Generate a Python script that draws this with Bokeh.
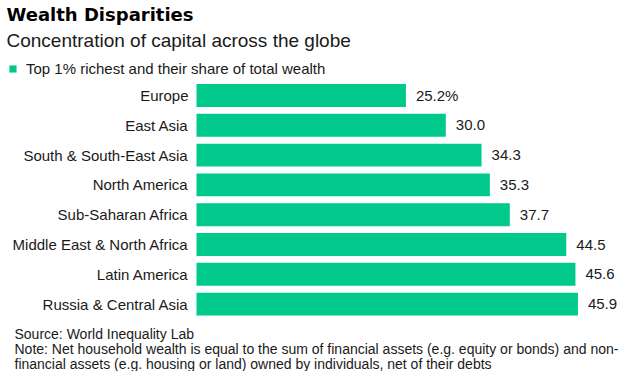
from bokeh.plotting import figure
from bokeh.models import Range1d, Label, ColumnDataSource
from bokeh.embed import file_html
from bokeh.resources import INLINE

regions = ["Europe", "East Asia", "South & South-East Asia", "North America",
           "Sub-Saharan Africa", "Middle East & North Africa", "Latin America",
           "Russia & Central Asia"]
shares = [25.2, 30.0, 34.3, 35.3, 37.7, 44.5, 45.6, 45.9]
value_labels = [f"{v:.1f}%" if i == 0 else f"{v:.1f}" for i, v in enumerate(shares)]
positions = list(range(len(regions)))

title = "Wealth Disparities"
subtitle = "Concentration of capital across the globe"
series_name = "Top 1% richest and their share of total wealth"
footer = ["Source: World Inequality Lab",
          "Note: Net household wealth is equal to the sum of financial assets (e.g. equity or bonds) and non-",
          "financial assets (e.g. housing or land) owned by individuals, net of their debts"]

GREEN = "#00C98B"
TEXT = "#1a1a1a"
FONT = "Liberation Sans"

W, H = 624, 371
px_per_unit = 8.31
zero_px = 196
pitch = 29.8
first_px = 95

p = figure(width=W, height=H, output_backend="svg", toolbar_location=None,
           x_axis_location=None, y_axis_location=None, min_border=0,
           x_range=Range1d(-zero_px / px_per_unit, (W - zero_px) / px_per_unit),
           y_range=Range1d((H - first_px) / pitch, -first_px / pitch))
p.outline_line_color = None
p.xgrid.visible = False
p.ygrid.visible = False
p.background_fill_color = "white"
p.border_fill_color = "white"

src = ColumnDataSource(dict(y=positions, right=shares, name=regions, lab=value_labels))
p.hbar(y="y", left=0, right="right", height=0.77, source=src,
       fill_color=GREEN, line_color=None, legend_label=series_name)

p.text(x=0, y="y", text="name", source=src, x_offset=-8, text_align="right",
       text_baseline="middle", text_font_size="15px", text_color=TEXT,
       text_font={"value": FONT})
p.text(x="right", y="y", text="lab", source=src, x_offset=10, text_align="left",
       text_baseline="middle", text_font_size="15px", text_color=TEXT,
       text_font={"value": FONT})

lg = p.legend[0]
lg.location = (8, 294)
lg.padding = 0
lg.margin = 0
lg.spacing = 0
lg.border_line_color = None
lg.background_fill_alpha = 0
lg.glyph_width = 9
lg.glyph_height = 9
lg.label_height = 9
lg.label_standoff = 9
lg.label_text_font = FONT
lg.label_text_font_size = "15px"
lg.label_text_color = TEXT
lg.label_text_baseline = "middle"

p.add_layout(Label(x=6, y=357, x_units="screen", y_units="screen", text=title,
                   text_font="DejaVu Sans", text_font_style="bold",
                   text_font_size="18px", text_color="black",
                   text_baseline="alphabetic"))
p.add_layout(Label(x=6, y=331, x_units="screen", y_units="screen", text=subtitle,
                   text_font=FONT, text_font_size="19px", text_color=TEXT,
                   text_baseline="alphabetic"))
for yy, t in zip([37.5, 22.5, 7.5], footer):
    p.add_layout(Label(x=14, y=yy, x_units="screen", y_units="screen", text=t,
                       text_font=FONT, text_font_size="14px", text_color=TEXT,
                       text_baseline="alphabetic"))

open("out.html", "w").write(file_html(p, INLINE))
